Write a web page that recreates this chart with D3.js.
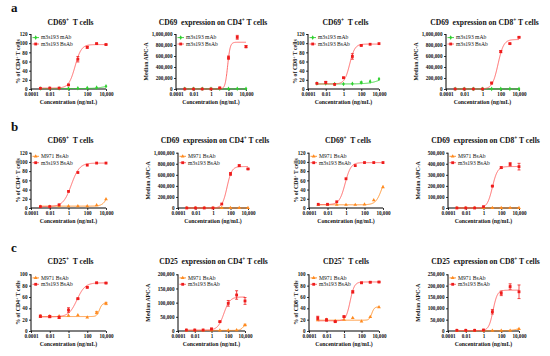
<!DOCTYPE html>
<html><head><meta charset="utf-8">
<script src="https://cdn.jsdelivr.net/npm/d3@7"></script>
<style>
body{margin:0;background:#fff}
svg{display:block}
text{font-family:"Liberation Serif","Times New Roman",serif;fill:#111;white-space:pre}
</style>
</head><body>
<svg id="c" width="550" height="356"></svg>
<script>
// ---------- data ----------
const conc = [0.001, 0.01, 0.1, 1, 10, 100, 1000, 10000];
const xTickValues = [0.0001, 0.01, 1, 100, 10000];
const xTickLabels = ["0.0001", "0.01", "1", "100", "10,000"];
const sectionLabels = ["a", "b", "c"];

const titles = [
  "CD69⁺  T cells", "CD69  expression on CD4⁺ T cells", "CD69⁺  T cells", "CD69  expression on CD8⁺ T cells",
  "CD69⁺  T cells", "CD69  expression on CD4⁺ T cells", "CD69⁺  T cells", "CD69  expression on CD8⁺ T cells",
  "CD25⁺  T cells", "CD25  expression on CD4⁺ T cells", "CD25⁺  T cells", "CD25  expression on CD8⁺ T cells"
];
const yLabels = [
  "% of CD4⁺ T cells", "Median APC-A", "% of CD8⁺ T cells", "Median APC-A",
  "% of CD4⁺ T cells", "Median APC-A", "% of CD8⁺ T cells", "Median APC-A",
  "% of CD4⁺ T cells", "Median APC-A", "% of CD8⁺ T cells", "Median APC-A"
];
const yMax  = [120, 1000000, 120, 1000000, 120, 1000000, 120, 500000, 100, 200000, 100, 250000];
const yStep = [20, 200000, 20, 200000, 20, 200000, 20, 100000, 20, 50000, 20, 50000];

const controlNames = ["m3s193 mAb", "M971 BsAb", "M971 BsAb"];
const bsabName = "m3s193 BsAb";

// control series (green in row a, orange in rows b,c)
const controlValues = [
  [1, 1, 1, 1, 1.5, 2, 3, 6],
  [3000, 3000, 3000, 3000, 3000, 3000, 3000, 3000],
  [12, 12, 11, 11, 11.5, 14, 16.6, 21.7],
  [2000, 2000, 2000, 2000, 2000, 2000, 2000, 2000],
  [3, 3, 4, 4, 4, 4, 6, 19],
  [1000, 1000, 1000, 1000, 1000, 1000, 1000, 1000],
  [7, 7, 7, 7, 7, 8, 17, 45],
  [1000, 1000, 1000, 1000, 1000, 1000, 1000, 1000],
  [26, 26, 26, 27, 28, 24, 32.5, 48.5],
  [2000, 2000, 2000, 2000, 2000, 2000, 3000, 21000],
  [19, 20, 17.7, 20, 23, 17, 25, 42],
  [1000, 1000, 1000, 1000, 1000, 1000, 1000, 9000]
];
const controlErr = [
  [0,0,0,0,0,0,0,0], [0,0,0,0,0,0,0,0], [0,0,0,0,0,1.5,0,0], [0,0,0,0,0,0,0,0],
  [0,0,0,0,0,0,0,0], [0,0,0,0,0,0,0,0], [0,0,0,0,0,0,0,0], [0,0,0,0,0,0,0,0],
  [0,0,0,0,0,0,2,2], [0,0,0,0,0,0,0,3000], [0,0,0,0,0,0,0,0], [0,0,0,0,0,0,0,0]
];
// m3s193 BsAb series (red)
const bsabValues = [
  [1.5, 2, 2, 9, 65, 91, 99, 97],
  [0, 0, 0, 0, 20000, 570000, 940000, 770000],
  [12.3, 14.5, 10, 24.6, 71, 95, 97.6, 99],
  [0, 0, 0, 0, 108000, 680000, 825000, 940000],
  [3, 3, 7, 36, 77, 93, 97.5, 97.5],
  [0, 0, 0, 0, 72000, 617000, 766000, 706000],
  [8, 8, 13.5, 63.5, 92, 98.6, 98.6, 98.6],
  [0, 0, 0, 12000, 198000, 365000, 395000, 374000],
  [26, 25.4, 24, 37, 57, 77, 85, 84.6],
  [3500, 3500, 3500, 7000, 33000, 97600, 127000, 106000],
  [23, 19.5, 16.5, 25.4, 69, 85, 86, 86.4],
  [3000, 3000, 3000, 4400, 85000, 166000, 196000, 173000]
];
const bsabErr = [
  [0, 0, 0, 1, 6, 2, 1, 1],
  [0, 0, 0, 0, 10000, 30000, 35000, 20000],
  [0, 2, 0, 1, 6, 1, 0, 0],
  [0, 0, 0, 0, 15000, 20000, 10000, 10000],
  [0, 0, 0, 0, 0, 0, 0, 0],
  [0, 0, 0, 0, 0, 25000, 15000, 10000],
  [0, 0, 0, 0, 0, 0, 0, 0],
  [0, 0, 0, 0, 5000, 8000, 15000, 30000],
  [2, 2, 2, 4, 1, 1, 1, 1],
  [0, 0, 0, 3000, 2000, 10000, 15000, 12000],
  [3, 2, 1, 1, 2, 1, 1, 1],
  [0, 0, 0, 0, 10000, 10000, 12000, 30000]
];
// four-parameter logistic fits: [bottom, top, EC50, hill]
const bsabFit = [
  [2, 97, 5, 1.3], [0, 850000, 80, 3], [11, 98, 5, 1.5], [0, 900000, 50, 1.4],
  [3, 97.5, 2, 1], [0, 750000, 40, 1.6], [7.5, 98.5, 0.8, 1.4], [0, 375000, 10, 1.5],
  [25, 85, 8, 1], [3000, 120000, 30, 1.2], [18, 86.5, 5, 1.8], [2000, 180000, 12, 1.8]
];
const controlFit = [
  [1, 10, 10000, 0.8], [3000, 3000, 1, 1], [11, 40, 50000, 0.6], [2000, 2000, 1, 1],
  [4, 60, 20000, 1.5], [1000, 1000, 1, 1], [7, 80, 8000, 1.3], [1000, 1000, 1, 1],
  [25.5, 49, 2000, 3], [2000, 35000, 8000, 2], [19, 42.5, 1500, 3], [1000, 20000, 10000, 1]
];

// ---------- layout ----------
const rowTop = [34, 152.7, 274.3];
const rowBottom = [89, 208, 331];
const colLeft = [[31, 176, 308, 446], [31, 178, 309, 448], [31, 178, 309, 448]];
const colRight = [[106, 246, 379, 519], [106, 248, 383, 519], [106, 245, 379, 519]];
const sectionY = [12, 131, 252];
const titleY = [25, 143, 264];

const RED = "#ee1c1c", RED_CURVE = "#ff5a5a", GREEN = "#2fd02f", ORANGE = "#ff8a1e";

const svg = d3.select("#c");

function fit(p, x) {
  const [b, t, ec, h] = p;
  return b + (t - b) / (1 + Math.pow(ec / x, h));
}

// write text with "⁺" rendered as superscript "+"
function supText(sel, str, size) {
  const parts = str.split("⁺");
  parts.forEach((p, i) => {
    if (i > 0) {
      sel.append("tspan").attr("dy", -size * 0.38).attr("font-size", size * 0.7).text("+");
      sel.append("tspan").attr("dy", size * 0.38).text(p);
    } else {
      sel.append("tspan").text(p);
    }
  });
}

sectionLabels.forEach((s, r) => {
  svg.append("text").attr("x", 11).attr("y", sectionY[r])
    .attr("font-size", 13).attr("font-weight", "bold").text(s);
});

for (let i = 0; i < 12; i++) {
  const r = Math.floor(i / 4), c = i % 4;
  const L = colLeft[r][c], R = colRight[r][c], T = rowTop[r], B = rowBottom[r];
  const x = d3.scaleLog().domain([0.0001, 10000]).range([L, R]);
  const y = d3.scaleLinear().domain([0, yMax[i]]).range([B, T]);
  const g = svg.append("g");
  const isApc = yMax[i] > 1000;
  const ctrlColor = r === 0 ? GREEN : ORANGE;

  // axes
  const xAxis = d3.axisBottom(x).tickValues(xTickValues)
    .tickFormat((d, k) => xTickLabels[k]).tickSize(2).tickPadding(1.5);
  const gx = g.append("g").attr("transform", `translate(0,${B})`).call(xAxis);
  const yt = d3.range(0, yMax[i] + 1, yStep[i]);
  const yAxis = d3.axisLeft(y).tickValues(yt)
    .tickFormat(isApc ? d3.format(",") : d3.format("d")).tickSize(2).tickPadding(1.5);
  const gy = g.append("g").attr("transform", `translate(${L},0)`).call(yAxis);
  [gx, gy].forEach(a => {
    a.select(".domain").attr("stroke", "#000").attr("stroke-width", 1);
    a.selectAll(".tick line").attr("stroke", "#000").attr("stroke-width", 0.8);
    a.selectAll(".tick text").attr("font-size", 5.2).attr("font-weight", "bold")
      .attr("font-family", '"Liberation Serif","Times New Roman",serif').attr("fill", "#111");
  });
  gx.select(".domain").attr("d", `M${L},0H${R}`);
  gy.select(".domain").attr("d", `M0,${B}V${T}`);

  // title
  const tt = g.append("text").attr("x", (L + R) / 2 + 2).attr("y", titleY[r])
    .attr("text-anchor", "middle").attr("font-size", 7.6).attr("font-weight", "bold");
  supText(tt, titles[i], 7.6);

  // x label
  g.append("text").attr("x", (L + R) / 2).attr("y", B + 14.5)
    .attr("text-anchor", "middle").attr("font-size", 5.8).attr("font-weight", "bold")
    .text("Concentration (ng/mL)");

  // y label
  const ylx = isApc ? L - 28.5 : L - 11;
  const yl = g.append("text").attr("transform", `translate(${ylx},${(T + B) / 2}) rotate(-90)`)
    .attr("text-anchor", "middle").attr("font-size", 5.8).attr("font-weight", "bold");
  supText(yl, yLabels[i], 5.8);

  // curves
  const xs = d3.range(-3, 4.0001, 0.02).map(e => Math.pow(10, e));
  const path = (p) => d3.line().x(d => x(d)).y(d => y(fit(p, d)))(xs);

  function drawSeries(vals, errs, p, color, curveColor, shape, sz) {
    g.append("path").attr("d", path(p)).attr("fill", "none")
      .attr("stroke", curveColor).attr("stroke-width", 0.9);
    conc.forEach((cx, k) => {
      const e = errs[k];
      if (e > 0) {
        const px = x(cx);
        g.append("path")
          .attr("d", `M${px},${y(vals[k] - e)}V${y(vals[k] + e)}M${px - 1.5},${y(vals[k] - e)}H${px + 1.5}M${px - 1.5},${y(vals[k] + e)}H${px + 1.5}`)
          .attr("stroke", color).attr("stroke-width", 0.8).attr("fill", "none");
      }
    });
    g.selectAll(null).data(conc).enter().append("path")
      .attr("transform", (d, k) => `translate(${x(d)},${y(vals[k])})`)
      .attr("d", d3.symbol().type(shape).size(sz))
      .attr("fill", color);
  }
  drawSeries(controlValues[i], controlErr[i], controlFit[i], ctrlColor, ctrlColor,
    r === 0 ? d3.symbolDiamond : d3.symbolTriangle, 6);
  drawSeries(bsabValues[i], bsabErr[i], bsabFit[i], RED, RED_CURVE, d3.symbolSquare, 8);

  // legend
  const legY = [T + 3.6, T + 10];
  const legNames = [controlNames[r], bsabName];
  const legCol = [ctrlColor, RED];
  const legShape = [r === 0 ? d3.symbolDiamond : d3.symbolTriangle, d3.symbolSquare];
  legNames.forEach((n, k) => {
    g.append("line").attr("x1", L + 1.5).attr("x2", L + 8).attr("y1", legY[k]).attr("y2", legY[k])
      .attr("stroke", k === 0 ? legCol[k] : RED_CURVE).attr("stroke-width", 0.9);
    g.append("path").attr("transform", `translate(${L + 4.7},${legY[k]})`)
      .attr("d", d3.symbol().type(legShape[k]).size(k === 0 ? 6 : 8)).attr("fill", legCol[k]);
    g.append("text").attr("x", L + 10).attr("y", legY[k] + 1.8)
      .attr("font-size", 5.6).text(n);
  });
}
</script>
</body></html>
